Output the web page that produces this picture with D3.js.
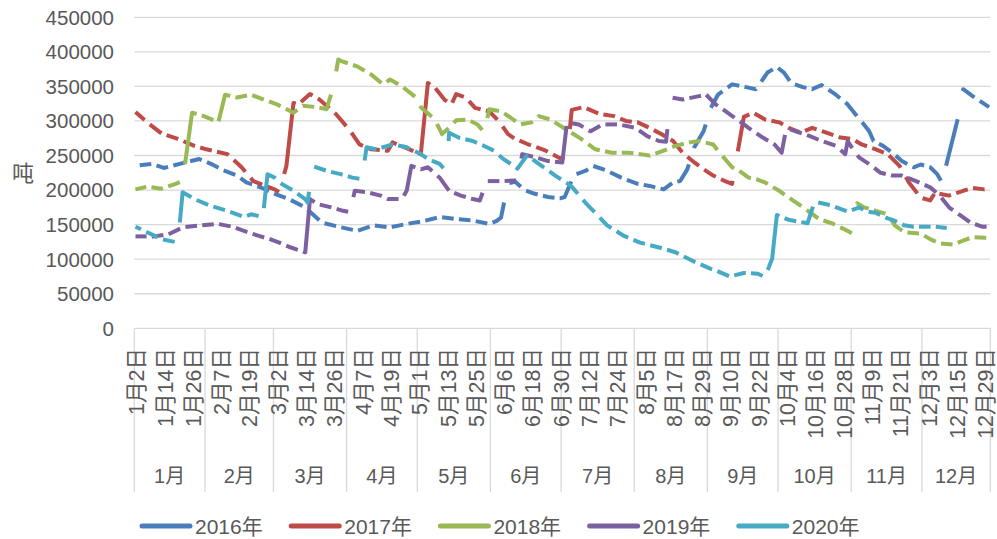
<!DOCTYPE html>
<html>
<head>
<meta charset="utf-8">
<script src="https://cdn.jsdelivr.net/npm/d3@7"></script>
<style>
  body { margin: 0; background: #fff; }
  text { font-family: "Liberation Sans", Arial, "Noto Sans CJK SC", sans-serif; fill: #595959; }
</style>
</head>
<body>
<svg id="chart" width="997" height="539"></svg>
<script>
// ---- data ----
const years = ["2016年", "2017年", "2018年", "2019年", "2020年"]
const colors = ["#4A7EBB", "#BE4B48", "#98B954", "#7D60A0", "#46AAC5"]
const monthNames = ["1月","2月","3月","4月","5月","6月","7月","8月","9月","10月","11月","12月"]
const daysInMonth = [31, 29, 31, 30, 31, 30, 31, 31, 30, 31, 30, 31]
const skippedDays = ["1-1", "12-24", "12-25"]
const yTicks = [0, 50000, 100000, 150000, 200000, 250000, 300000, 350000, 400000, 450000]

const s2016 = [["1-2",235000],["1-9",238000],["1-14",232000],["1-22",239000],["1-29",245000],["2-3",238000],["2-8",229000],["2-14",221000],["2-18",211000],["2-24",204000],["2-29",196000],["3-7",187000],["3-14",175000],["3-21",153000],["3-28",147000],["4-5",141000],["4-12",149000],["4-19",146000],["4-26",151000],["5-3",155000],["5-10",161000],["5-17",158000],["5-24",156000],["5-31",151000],["6-3",155000],["6-5",160000],["6-8",210000],["6-11",212000],["6-15",200000],["6-19",195000],["6-25",190000],["6-30",188000],["7-2",190000],["7-6",222000],["7-11",228000],["7-14",235000],["7-20",228000],["7-26",218000],["8-2",209000],["8-7",206000],["8-13",201000],["8-17",211000],["8-20",213000],["8-23",230000],["8-26",262000],["8-30",286000],["9-2",319000],["9-5",338000],["9-11",353000],["9-17",349000],["9-21",346000],["9-23",355000],["9-26",370000],["9-30",378000],["10-3",370000],["10-6",355000],["10-11",349000],["10-15",346000],["10-19",352000],["10-25",338000],["10-30",324000],["11-3",307000],["11-8",286000],["11-10",271000],["11-14",264000],["11-18",254000],["11-22",242000],["11-27",233000],["11-30",237000],["12-4",233000],["12-7",223000],["12-9",211000],["12-16",307000],["12-18",346000],["12-22",336000],["12-31",320000]]

const s2017 = [["1-2",313000],["1-7",298000],["1-13",282000],["1-20",274000],["1-27",264000],["2-1",259000],["2-10",252000],["2-16",233000],["2-21",213000],["3-1",201000],["3-3",197000],["3-6",235000],["3-9",326000],["3-11",324000],["3-16",339000],["3-20",331000],["3-27",310000],["4-2",286000],["4-6",266000],["4-11",259000],["4-18",257000],["4-20",269000],["4-25",262000],["5-2",252000],["5-5",355000],["5-8",348000],["5-12",331000],["5-15",324000],["5-17",339000],["5-21",334000],["5-25",319000],["5-31",314000],["6-4",300000],["6-8",281000],["6-11",274000],["6-16",267000],["6-20",262000],["6-24",257000],["6-30",246000],["7-3",248000],["7-5",316000],["7-10",320000],["7-17",310000],["7-23",307000],["7-28",300000],["8-2",298000],["8-7",290000],["8-12",281000],["8-17",271000],["8-21",254000],["8-26",240000],["8-30",230000],["9-3",221000],["9-8",213000],["9-11",209000],["9-16",306000],["9-20",312000],["9-25",302000],["10-1",298000],["10-5",290000],["10-10",283000],["10-15",290000],["10-21",283000],["10-27",276000],["11-1",274000],["11-5",266000],["11-11",259000],["11-16",252000],["11-21",235000],["11-25",211000],["11-30",189000],["12-4",185000],["12-6",196000],["12-12",192000],["12-18",199000],["12-22",203000],["12-29",201000],["12-31",201000]]

const s2018 = [["1-2",201000],["1-7",205000],["1-13",202000],["1-19",209000],["1-22",213000],["1-26",312000],["1-31",307000],["2-5",300000],["2-6",296000],["2-9",338000],["2-14",334000],["2-20",338000],["2-27",329000],["3-2",324000],["3-5",319000],["3-9",312000],["3-13",322000],["3-19",320000],["3-23",317000],["3-26",350000],["3-28",389000],["3-29",387000],["4-5",379000],["4-11",367000],["4-16",353000],["4-19",360000],["4-24",350000],["4-30",334000],["5-2",320000],["5-8",302000],["5-11",281000],["5-14",290000],["5-17",301000],["5-22",302000],["5-26",295000],["5-29",283000],["5-31",317000],["6-5",314000],["6-9",305000],["6-13",295000],["6-18",298000],["6-21",307000],["6-26",302000],["7-3",287000],["7-9",274000],["7-15",259000],["7-22",254000],["7-29",254000],["8-3",252000],["8-7",250000],["8-13",257000],["8-18",264000],["8-24",269000],["8-28",271000],["9-3",266000],["9-5",257000],["9-8",245000],["9-11",233000],["9-14",228000],["9-18",218000],["9-21",216000],["9-25",211000],["10-1",199000],["10-6",187000],["10-12",173000],["10-18",158000],["10-24",151000],["10-30",141000],["11-1",137000],["11-3",181000],["11-6",175000],["11-11",170000],["11-16",165000],["11-19",149000],["11-23",139000],["11-30",137000],["12-4",129000],["12-8",123000],["12-14",121000],["12-18",127000],["12-22",132000],["12-29",131000],["12-31",131000]]

const s2019 = [["1-2",133000],["1-10",133000],["1-16",136000],["1-22",146000],["1-30",149000],["2-6",151000],["2-12",147000],["2-17",141000],["2-23",134000],["2-28",129000],["3-3",124000],["3-7",118000],["3-14",110000],["3-16",187000],["3-19",180000],["3-25",175000],["3-30",170000],["4-2",168000],["4-4",199000],["4-9",197000],["4-15",192000],["4-18",187000],["4-24",187000],["4-26",199000],["4-28",235000],["5-2",230000],["5-5",233000],["5-10",218000],["5-14",199000],["5-19",192000],["5-24",187000],["5-27",185000],["5-30",213000],["6-6",213000],["6-12",214000],["6-14",252000],["6-20",247000],["6-25",242000],["7-1",240000],["7-3",298000],["7-8",295000],["7-13",285000],["7-18",295000],["7-25",295000],["8-1",290000],["8-6",278000],["8-11",271000],["8-14",270000],["8-16",334000],["8-21",331000],["8-28",336000],["8-31",338000],["9-4",324000],["9-7",317000],["9-12",305000],["9-18",290000],["9-24",276000],["9-29",266000],["10-2",254000],["10-4",290000],["10-8",285000],["10-14",278000],["10-19",271000],["10-25",264000],["10-29",252000],["10-30",271000],["11-2",255000],["11-4",247000],["11-8",238000],["11-13",225000],["11-18",221000],["11-22",221000],["11-28",213000],["12-4",204000],["12-8",192000],["12-12",175000],["12-17",163000],["12-21",153000],["12-28",147000],["12-31",147000]]

const s2020 = [["1-2",147000],["1-7",139000],["1-13",129000],["1-20",124000],["1-22",197000],["1-27",187000],["2-3",177000],["2-10",170000],["2-17",161000],["2-20",165000],["2-25",161000],["2-27",223000],["3-1",218000],["3-3",211000],["3-9",199000],["3-14",187000],["3-15",182000],["3-17",235000],["3-23",228000],["3-29",223000],["4-3",218000],["4-7",216000],["4-9",262000],["4-13",259000],["4-20",266000],["4-26",262000],["5-2",252000],["5-5",245000],["5-10",238000],["5-13",226000],["5-14",283000],["5-18",276000],["5-24",271000],["5-30",262000],["6-2",257000],["6-6",245000],["6-10",236000],["6-12",231000],["6-16",250000],["6-19",243000],["6-21",238000],["6-26",226000],["6-28",221000],["7-3",210000],["7-5",205000],["7-8",193000],["7-11",181000],["7-13",174000],["7-20",149000],["7-27",134000],["8-3",124000],["8-11",117000],["8-18",110000],["8-25",98000],["9-2",86000],["9-4",84000],["9-10",75000],["9-16",80000],["9-22",79000],["9-25",74000],["9-28",101000],["9-30",164000],["10-5",157000],["10-13",152000],["10-16",183000],["10-23",178000],["10-26",174000],["10-30",169000],["11-4",175000],["11-7",169000],["11-11",167000],["11-16",159000],["11-18",157000],["11-23",149000],["11-27",147000],["12-3",147000],["12-6",147000],["12-11",145000]]

const seriesData = [s2016, s2017, s2018, s2019, s2020]

// ---- categories (one per trading day) ----
const categories = []
daysInMonth.forEach((n, mi) => {
  d3.range(1, n + 1).forEach(day => {
    const key = `${mi + 1}-${day}`
    if (skippedDays.includes(key)) return
    categories.push({ key, month: mi, label: `${mi + 1}月${day}日` })
  })
})

// ---- dimensions ----
const dims = { left: 134.3, right: 990.3, top: 17.3, bottom: 328.3, axisBottom: 492 }

const svg = d3.select("#chart")

const x = d3.scalePoint()
    .domain(categories.map(d => d.key))
    .range([dims.left, dims.right])
    .padding(0.5)
const step = x.step()
const edge = i => dims.left + step * i   // left edge of category i

const y = d3.scaleLinear()
    .domain([0, 450000])
    .range([dims.bottom, dims.top])

// ---- gridlines & y labels ----
svg.append("g").selectAll("line")
  .data(yTicks)
  .join("line")
    .attr("x1", dims.left).attr("x2", dims.right)
    .attr("y1", d => y(d)).attr("y2", d => y(d))
    .attr("stroke", "#D9D9D9").attr("stroke-width", 1.3)

svg.append("g").selectAll("text")
  .data(yTicks)
  .join("text")
    .attr("x", 114)
    .attr("y", d => y(d))
    .attr("dy", "0.36em")
    .attr("text-anchor", "end")
    .style("font-size", "20.5px")
    .text(d => d)

svg.append("text")
    .attr("x", 23).attr("y", 173)
    .attr("dy", "0.36em")
    .attr("text-anchor", "middle")
    .style("font-size", "22px")
    .text("吨")

// ---- category axis ----
const monthStarts = monthNames.map((m, mi) => categories.findIndex(c => c.month === mi))
const boundaries = monthStarts.concat([categories.length])

svg.append("g").selectAll("line")
  .data(boundaries)
  .join("line")
    .attr("x1", i => edge(i)).attr("x2", i => edge(i))
    .attr("y1", dims.bottom).attr("y2", dims.axisBottom)
    .attr("stroke", "#D9D9D9").attr("stroke-width", 1.3)

const tickCats = categories.filter((c, i) => i % 12 === 0)
svg.append("g").selectAll("text")
  .data(tickCats)
  .join("text")
    .attr("transform", d => `translate(${x(d.key) + 1},348) rotate(-90)`)
    .attr("dy", "0.36em")
    .attr("text-anchor", "end")
    .style("font-size", "21.5px")
    .text(d => d.label)

svg.append("g").selectAll("text")
  .data(monthNames)
  .join("text")
    .attr("x", (d, i) => (edge(boundaries[i]) + edge(boundaries[i + 1])) / 2)
    .attr("y", 476)
    .attr("dy", "0.36em")
    .attr("text-anchor", "middle")
    .style("font-size", "20px")
    .text(d => d)

// ---- lines ----
// the reference's dashes follow horizontal position, so steep jumps stay solid;
// cut each projected polyline into x-windows and stroke the pieces
const dashPeriod = 16.8
const dashLength = 11.6
const dashPhase = [139.7, 133.0, 134.6, 135.0, 129.4]

const keyIndex = new Map(categories.map((c, i) => [c.key, i]))

function dashPieces(pts, phase) {
  const pieces = []
  for (let a = phase - dashPeriod; a < 1000; a += dashPeriod) {
    const b = a + dashLength
    const piece = []
    for (let k = 0; k < pts.length - 1; k++) {
      const [x0, y0] = pts[k], [x1, y1] = pts[k + 1]
      if (x1 < a || x0 > b) continue
      const t0 = Math.max(0, (a - x0) / (x1 - x0))
      const t1 = Math.min(1, (b - x0) / (x1 - x0))
      if (!piece.length) piece.push([x0 + (x1 - x0) * t0, y0 + (y1 - y0) * t0])
      piece.push([x0 + (x1 - x0) * t1, y0 + (y1 - y0) * t1])
    }
    if (piece.length > 1) pieces.push(piece)
  }
  return pieces
}

const pieceLine = d3.line()

seriesData.forEach((series, i) => {
  const pts = series.slice()
    .sort((a, b) => keyIndex.get(a[0]) - keyIndex.get(b[0]))
    .map(d => [x(d[0]), y(d[1])])
  svg.append("g")
      .attr("class", "series")
    .selectAll("path")
    .data(dashPieces(pts, dashPhase[i]))
    .join("path")
      .attr("d", pieceLine)
      .attr("fill", "none")
      .attr("stroke", colors[i])
      .attr("stroke-width", 4)
      .attr("stroke-linejoin", "round")
      .attr("stroke-linecap", "butt")
})

// ---- legend ----
const legend = svg.append("g").selectAll("g")
  .data(years)
  .join("g")
    .attr("transform", (d, i) => `translate(${142 + i * 149.2},526)`)

legend.append("line")
    .attr("x1", 0).attr("x2", 48)
    .attr("stroke", (d, i) => colors[i])
    .attr("stroke-width", 5)
    .attr("stroke-linecap", "round")

legend.append("text")
    .attr("x", 53)
    .attr("dy", "0.36em")
    .style("font-size", "21px")
    .text(d => d)
</script>
</body>
</html>
